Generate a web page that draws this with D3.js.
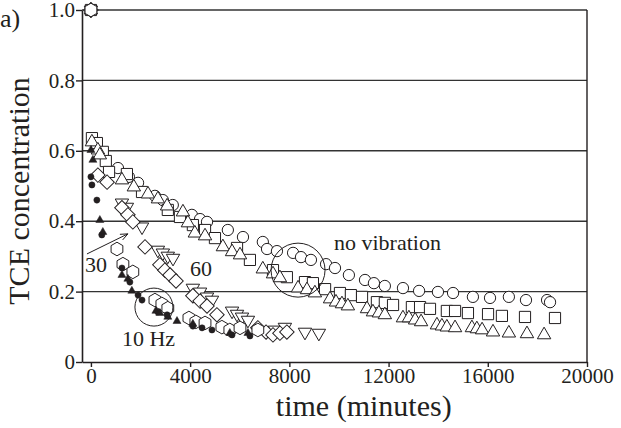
<!DOCTYPE html>
<html lang="en">
<head>
<meta charset="utf-8">
<title>TCE concentration</title>
<script src="https://d3js.org/d3.v7.min.js"></script>
<style>
body { margin: 0; background: #fff; }
svg text { font-family: "Liberation Serif", "Times New Roman", serif; fill: #231f20; }
.tick text { font-size: 21px; }
.axis-title { font-size: 30px; }
.note { font-size: 22px; }
</style>
</head>
<body>
<script>
// values: [time (minutes), relative TCE concentration]
var noVibCircles = [[0,1.0],[1090,0.551],[1530,0.526],[1900,0.509],[2580,0.472],[2900,0.46],[3300,0.446],
  [4070,0.418],[4400,0.406],[4680,0.398],[5520,0.375],[6130,0.355],[6930,0.341],[7100,0.321],[7500,0.315],
  [8150,0.31],[8470,0.298],[8870,0.29],[9480,0.278],[9840,0.267],[10400,0.247],[11050,0.233],[11410,0.224],
  [11850,0.216],[12580,0.21],[13230,0.202],[13990,0.199],[14600,0.196],[15400,0.185],[16090,0.182],
  [16850,0.185],[17540,0.176],[18390,0.176],[18510,0.17]];

var noVibSquares = [[0,1.0],[40,0.636],[240,0.622],[480,0.597],[600,0.571],[730,0.54],[1450,0.534],[2060,0.483],
  [3100,0.432],[3590,0.412],[4110,0.389],[4600,0.375],[5000,0.352],[5890,0.324],[6410,0.29],[7340,0.261],
  [7900,0.241],[8630,0.227],[8950,0.224],[9440,0.207],[10040,0.196],[10480,0.19],[10930,0.185],[11530,0.17],
  [11850,0.168],[12180,0.162],[12940,0.156],[13270,0.156],[13670,0.151],[14350,0.145],[14680,0.145],
  [15200,0.139],[16010,0.136],[16570,0.131],[17500,0.128],[18710,0.125]];

var noVibTriangles = [[0,1.0],[40,0.625],[280,0.602],[360,0.588],[1250,0.517],[1730,0.497],[2300,0.477],[2700,0.463],
  [3070,0.443],[3710,0.426],[3910,0.395],[4190,0.366],[4600,0.358],[5320,0.327],[5690,0.313],[6010,0.304],
  [6930,0.264],[7340,0.25],[7620,0.239],[8350,0.21],[8710,0.205],[9030,0.196],[9640,0.179],[9880,0.17],
  [10120,0.165],[10360,0.159],[11130,0.151],[11370,0.142],[11610,0.139],[11850,0.134],[12580,0.125],
  [12820,0.125],[13070,0.119],[13310,0.114],[13950,0.105],[14150,0.102],[14350,0.099],[14680,0.097],
  [15360,0.097],[15560,0.094],[15770,0.091],[16210,0.085],[16850,0.082],[17580,0.08],[18270,0.077]];

var hz30Diamonds = [[0,1.0],[280,0.531],[650,0.511],[1250,0.438],[1490,0.418],[1690,0.398],[2180,0.327],
  [2780,0.276],[2980,0.261],[3190,0.247],[3430,0.23],[4110,0.188],[4400,0.173],[4680,0.159],[5080,0.134],
  [6730,0.097],[7060,0.085],[7340,0.077],[7620,0.082],[7900,0.085]];

var hz60TrianglesDown = [[0,1.0],[1250,0.452],[1450,0.44],[2060,0.384],[2700,0.318],[2900,0.31],[3100,0.301],
  [3310,0.295],[4110,0.21],[4400,0.199],[4680,0.185],[4880,0.176],[5690,0.145],[5890,0.136],[6090,0.128],
  [6330,0.119],[7420,0.091],[7820,0.099],[8630,0.085],[9190,0.082]];

var hz10Hexagons = [[0,1.0],[1050,0.321],[1290,0.278],[1690,0.256],[2580,0.176],[2860,0.165],[3100,0.153],
  [3950,0.125],[4230,0.114],[4600,0.111],[5280,0.099],[5600,0.091],[6010,0.097],[6730,0.091]];

var hz10FilledTriangles = [[0,0.602],[80,0.574],[360,0.403],[480,0.369],[1250,0.247],[1490,0.236],[1650,0.202],
  [2620,0.145],[2780,0.139],[3100,0.128],[3470,0.116],[4110,0.108],[5600,0.082],[6330,0.082]];

var hz10FilledCircles = [[0,0.526],[40,0.503],[240,0.46],[440,0.361],[1250,0.267],[1570,0.227],[1900,0.19],
  [2060,0.176],[2700,0.142],[3070,0.134],[4110,0.102],[4480,0.097],[4880,0.091],[5690,0.077],[6410,0.074]];

var xTicks = [0, 4000, 8000, 12000, 16000, 20000];
var yTicks = [0, 0.2, 0.4, 0.6, 0.8, 1.0];
var yGrid = [0.2, 0.4, 0.6, 0.8, 1.0];

var width = 621, height = 428;
var ink = "#231f20";

var svg = d3.select("body").append("svg")
    .attr("width", width)
    .attr("height", height);

var x = d3.scaleLinear().domain([-360, 20000]).range([82, 587]);
var y = d3.scaleLinear().domain([0, 1]).range([362, 10]);

// horizontal grid lines
svg.selectAll(".grid")
    .data(yGrid)
  .enter().append("line")
    .attr("class", "grid")
    .attr("x1", x.range()[0]).attr("x2", x.range()[1])
    .attr("y1", d => y(d)).attr("y2", d => y(d))
    .attr("stroke", "#333").attr("stroke-width", 1.4);

// right frame
svg.append("line")
    .attr("x1", x.range()[1]).attr("x2", x.range()[1])
    .attr("y1", y(1)).attr("y2", y(0))
    .attr("stroke", ink).attr("stroke-width", 1.4);

var hexagon = {
  draw: function(context, size) {
    var r = Math.sqrt(size / (1.5 * Math.sqrt(3)));
    for (var i = 0; i < 6; i++) {
      var a = -Math.PI / 2 + i * Math.PI / 3;
      if (i === 0) context.moveTo(r * Math.cos(a), r * Math.sin(a));
      else context.lineTo(r * Math.cos(a), r * Math.sin(a));
    }
    context.closePath();
  }
};

function drawSeries(data, type, size, rotate, filled) {
  var sym = d3.symbol().type(type).size(size);
  svg.append("g").selectAll("path")
      .data(data)
    .enter().append("path")
      .attr("d", sym)
      .attr("transform", d => "translate(" + x(d[0]) + "," + y(d[1]) + ")" + (rotate ? " rotate(" + rotate + ")" : ""))
      .attr("fill", filled ? ink : "#fff")
      .attr("stroke", ink)
      .attr("stroke-width", filled ? 0.5 : 1);
}

drawSeries(noVibCircles, d3.symbolCircle, 100, 0, false);
drawSeries(noVibSquares, d3.symbolSquare, 125, 0, false);
drawSeries(noVibTriangles, d3.symbolTriangle, 78, 0, false);
drawSeries(hz60TrianglesDown, d3.symbolTriangle, 78, 180, false);
drawSeries(hz30Diamonds, d3.symbolSquare, 105, 45, false);
drawSeries(hz10Hexagons, hexagon, 120, 0, false);
drawSeries(hz10FilledCircles, d3.symbolCircle, 30, 0, true);
drawSeries(hz10FilledTriangles, d3.symbolTriangle, 28, 0, true);

// axes
svg.append("g")
    .attr("transform", "translate(0," + y(0) + ")")
    .call(d3.axisBottom(x).tickValues(xTicks).tickFormat(d3.format("d"))
      .tickSize(5).tickSizeOuter(0).tickPadding(1));

svg.append("g")
    .attr("transform", "translate(" + x.range()[0] + ",0)")
    .call(d3.axisLeft(y).tickValues(yTicks)
      .tickFormat(d => d === 0 ? "0" : d3.format(".1f")(d))
      .tickSize(6).tickSizeOuter(0).tickPadding(1));

svg.selectAll(".domain").attr("stroke", ink).attr("stroke-width", 1.6);
svg.selectAll(".tick line").attr("stroke", ink).attr("stroke-width", 1.4);
svg.selectAll(".tick text").attr("fill", ink);

// axis titles
svg.append("text")
    .attr("class", "axis-title")
    .attr("x", x(11000)).attr("y", 416)
    .attr("text-anchor", "middle")
    .text("time (minutes)");

svg.append("text")
    .attr("class", "axis-title")
    .attr("transform", "translate(29,191) rotate(-90)")
    .attr("text-anchor", "middle")
    .text("TCE concentration");

svg.append("text")
    .attr("x", 0).attr("y", 27)
    .style("font-size", "26px")
    .text("a)");

// annotations
svg.append("circle")
    .attr("cx", x(8350)).attr("cy", y(0.261)).attr("r", 27)
    .attr("fill", "none").attr("stroke", ink).attr("stroke-width", 1);
svg.append("circle")
    .attr("cx", x(2540)).attr("cy", y(0.156)).attr("r", 19)
    .attr("fill", "none").attr("stroke", ink).attr("stroke-width", 1);

svg.append("text").attr("class", "note")
    .attr("x", x(9800)).attr("y", y(0.318)).text("no vibration");
svg.append("text").attr("class", "note")
    .attr("x", x(1250)).attr("y", y(0.045)).text("10 Hz");
svg.append("text").attr("class", "note")
    .attr("x", x(3990)).attr("y", y(0.244)).text("60");
svg.append("text").attr("class", "note")
    .attr("x", x(-240)).attr("y", y(0.256)).text("30");

// arrow toward the 30 Hz diamonds
var ax0 = x(-160), ay0 = y(0.307), ax1 = x(1490), ay1 = y(0.364);
var ang = Math.atan2(ay1 - ay0, ax1 - ax0), hl = 8, spread = 0.4;
svg.append("path")
    .attr("d", "M" + ax0 + "," + ay0 + "L" + ax1 + "," + ay1 +
      "M" + (ax1 - hl * Math.cos(ang - spread)) + "," + (ay1 - hl * Math.sin(ang - spread)) +
      "L" + ax1 + "," + ay1 +
      "L" + (ax1 - hl * Math.cos(ang + spread)) + "," + (ay1 - hl * Math.sin(ang + spread)))
    .attr("fill", "none").attr("stroke", ink).attr("stroke-width", 1);
</script>
</body>
</html>
